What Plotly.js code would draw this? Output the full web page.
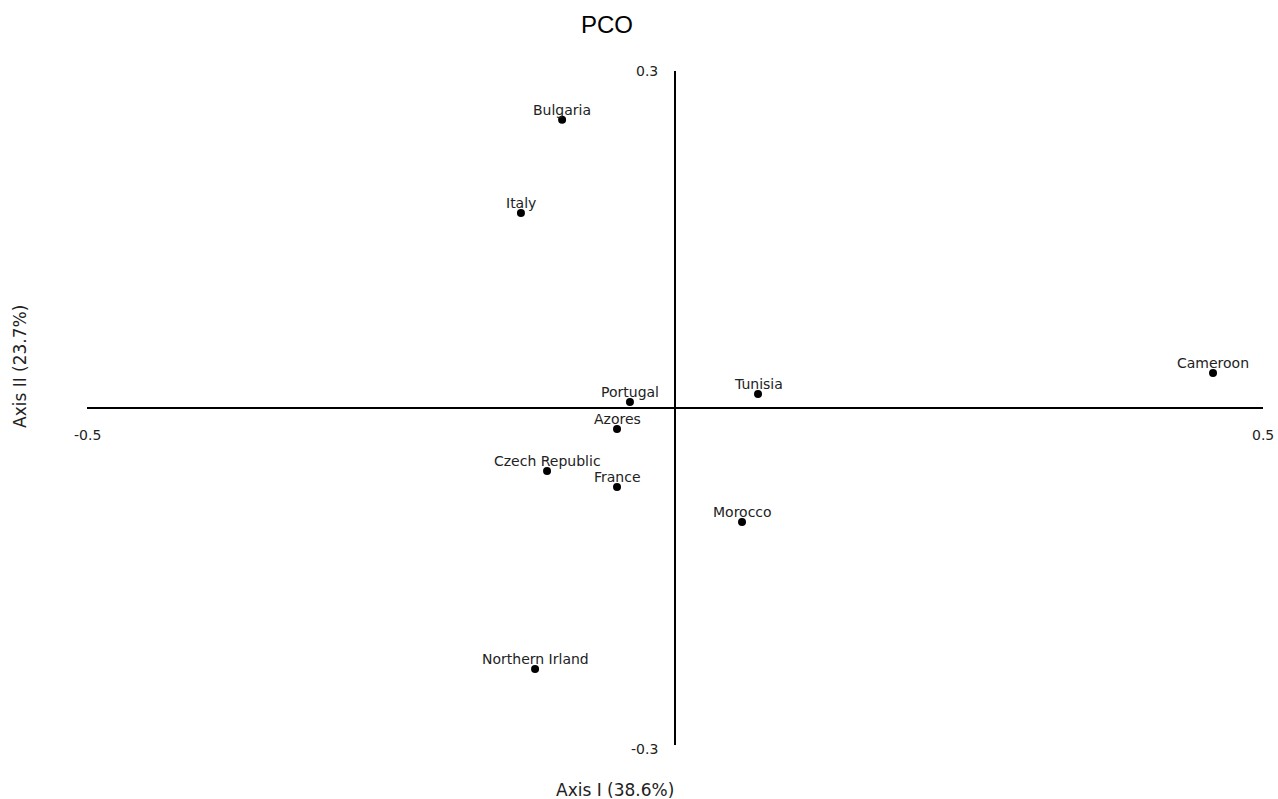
<!DOCTYPE html>
<html>
<head>
<meta charset="utf-8">
<script src="https://cdn.plot.ly/plotly-3.0.1.min.js"></script>
<style>html,body{margin:0;padding:0;background:#fff;}#chart{width:1278px;height:799px;}</style>
</head>
<body>
<div id="chart"></div>
<script>
const countries = ["Bulgaria","Italy","Cameroon","Tunisia","Portugal","Azores","Czech Republic","France","Morocco","Northern Irland"];
const axis1 = [-0.096, -0.131, 0.4575, 0.0706, -0.0383, -0.0493, -0.1088, -0.0493, 0.057, -0.119];
const axis2 = [0.2565, 0.1736, 0.0312, 0.0125, 0.0053, -0.0187, -0.0561, -0.0703, -0.1015, -0.2324];
const xLim = [-0.5, 0.5];
const yLim = [-0.3, 0.3];

const labelFont = {family: 'DejaVu Sans, Verdana, sans-serif', size: 14, color: '#222'};
const tickFont = {family: 'DejaVu Sans, Verdana, sans-serif', size: 14, color: '#222'};

const trace = {
  x: axis1, y: axis2,
  mode: 'markers', type: 'scatter',
  marker: {color: '#000', size: 8},
  cliponaxis: false, hoverinfo: 'none'
};

const annotations = countries.map((c, i) => ({
  x: axis1[i], y: axis2[i], xref: 'x', yref: 'y', text: c, showarrow: false,
  xanchor: 'center', yanchor: 'middle', yshift: 10, font: labelFont
}));

const pw = 1278 - 87 - 15, ph = 799 - 71 - 54;
const px2x = px => (px - 87) / pw;
const py2y = py => 1 - (py - 71) / ph;

annotations.push(
  {x: xLim[0], y: 0, xref: 'x', yref: 'y', text: String(xLim[0]), showarrow: false, xanchor: 'center', yanchor: 'middle', yshift: -27, font: tickFont},
  {x: xLim[1], y: 0, xref: 'x', yref: 'y', text: String(xLim[1]), showarrow: false, xanchor: 'center', yanchor: 'middle', yshift: -27, font: tickFont},
  {x: 0, y: yLim[1], xref: 'x', yref: 'y', text: String(yLim[1]), showarrow: false, xanchor: 'right', yanchor: 'middle', xshift: -15, font: tickFont},
  {x: 0, y: yLim[0], xref: 'x', yref: 'y', text: String(yLim[0]), showarrow: false, xanchor: 'right', yanchor: 'middle', xshift: -15, yshift: -4, font: tickFont},
  {x: px2x(615), y: py2y(790), xref: 'paper', yref: 'paper', text: 'Axis I (38.6%)', showarrow: false, xanchor: 'center', yanchor: 'middle', font: {family: 'DejaVu Sans, Verdana, sans-serif', size: 17, color: '#222'}},
  {x: px2x(20), y: py2y(367), xref: 'paper', yref: 'paper', text: 'Axis II (23.7%)', showarrow: false, textangle: -90, xanchor: 'center', yanchor: 'middle', font: {family: 'DejaVu Sans, Verdana, sans-serif', size: 17, color: '#222'}}
);

const layout = {
  width: 1278, height: 799,
  margin: {l: 87, r: 15, t: 71, b: 54},
  paper_bgcolor: '#fff', plot_bgcolor: '#fff',
  showlegend: false,
  title: {text: 'PCO', x: 607/1278, xanchor: 'center', y: 1 - 25/799, yanchor: 'middle',
          font: {family: 'Liberation Sans, Arial, sans-serif', size: 24, color: '#000'}},
  xaxis: {range: xLim, showgrid: false, showticklabels: false, ticks: '', showline: false,
          zeroline: true, zerolinecolor: '#000', zerolinewidth: 2, fixedrange: true},
  yaxis: {range: yLim, showgrid: false, showticklabels: false, ticks: '', showline: false,
          zeroline: true, zerolinecolor: '#000', zerolinewidth: 2, fixedrange: true},
  annotations: annotations
};
Plotly.newPlot('chart', [trace], layout, {displayModeBar: false, staticPlot: true});
</script>
</body>
</html>
